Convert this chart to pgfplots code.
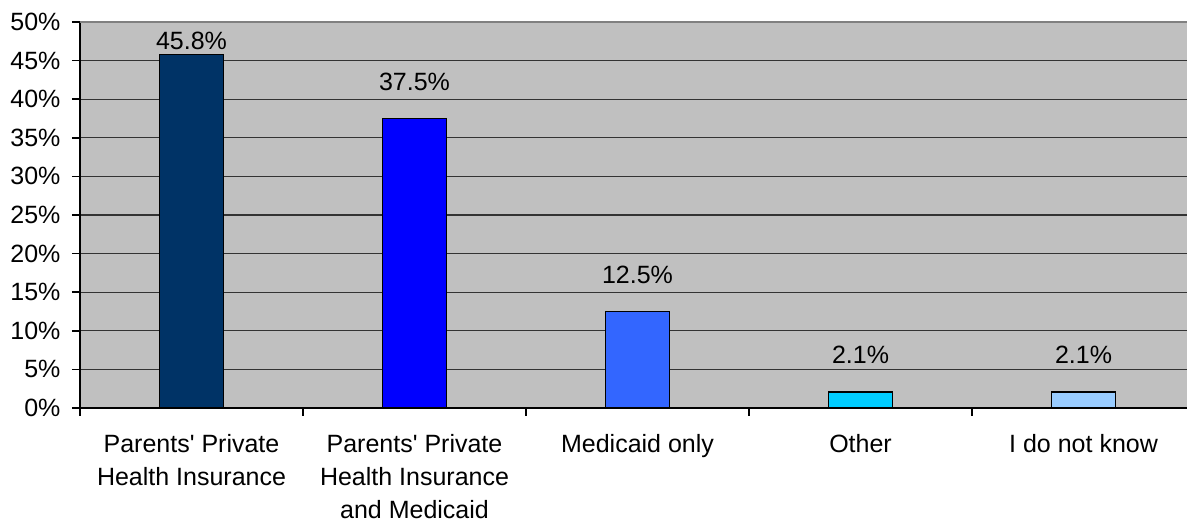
\documentclass[border=0pt]{standalone}
\usepackage{pgfplots}
\pgfplotsset{compat=1.18}
\usepackage{fontspec}
\setmainfont{Liberation Sans}
\definecolor{bgc}{HTML}{C0C0C0}
\definecolor{c1}{HTML}{003366}
\definecolor{c2}{HTML}{0000FF}
\definecolor{c3}{HTML}{3366FF}
\definecolor{c4}{HTML}{00CCFF}
\definecolor{c5}{HTML}{99CCFF}
\begin{document}
\fontsize{25pt}{33pt}\selectfont
\begin{tikzpicture}
\begin{axis}[
  name=ax,
  scale only axis,
  width=1107pt, height=386pt,
  xmin=-0.5, xmax=4.464,
  ymin=0, ymax=50,
  axis background/.style={fill=bgc},
  axis x line*=bottom, axis y line*=left,
  axis line style={black, line width=1.5pt},
  ytick={0,5,...,50},
  yticklabels={0\%,5\%,10\%,15\%,20\%,25\%,30\%,35\%,40\%,45\%,50\%},
  ymajorgrids,
  major grid style={black!80, line width=1.3pt},
  tick align=outside,
  major tick length=8pt,
  minor tick length=8pt,
  tick style={black, line width=1.5pt},
  xtick={0,1,2,3,4},
  xticklabels={{Parents\textquotesingle{} Private\\Health Insurance},{Parents\textquotesingle{} Private\\Health Insurance\\and Medicaid},{Medicaid only},{Other},{I do not know}},
  minor xtick={-0.5,0.5,1.5,2.5,3.5},
  every major x tick/.append style={draw=none},
  xticklabel style={align=center, font=\fontsize{25pt}{33pt}\selectfont, yshift=-10pt},
  yticklabel style={font=\fontsize{25pt}{33pt}\selectfont, xshift=-3pt},
  bar width=0.287,
  clip=false,
]
\addplot[ybar, bar shift=0pt, fill=c1, draw=black, line width=1.5pt] coordinates {(0,45.8)};
\addplot[ybar, bar shift=0pt, fill=c2, draw=black, line width=1.5pt] coordinates {(1,37.5)};
\addplot[ybar, bar shift=0pt, fill=c3, draw=black, line width=1.5pt] coordinates {(2,12.5)};
\addplot[ybar, bar shift=0pt, fill=c4, draw=black, line width=1.5pt] coordinates {(3,2.1)};
\addplot[ybar, bar shift=0pt, fill=c5, draw=black, line width=1.5pt] coordinates {(4,2.1)};
\addplot[only marks, mark=none, nodes near coords, point meta=explicit symbolic,
  every node near coord/.style={anchor=center, font=\fontsize{25pt}{33pt}\selectfont}]
  coordinates {(0,47.5) [45.8\%] (1,42.3) [37.5\%] (2,17.3) [12.5\%] (3,6.9) [2.1\%] (4,6.9) [2.1\%]};
\draw[gray, line width=1.5pt] (axis cs:-0.5,50) -- (axis cs:4.464,50);
\end{axis}
\pgfresetboundingbox
\path[use as bounding box] ([xshift=-80pt,yshift=-114pt]ax.south west) rectangle ([yshift=22pt]ax.north east);
\end{tikzpicture}
\end{document}
